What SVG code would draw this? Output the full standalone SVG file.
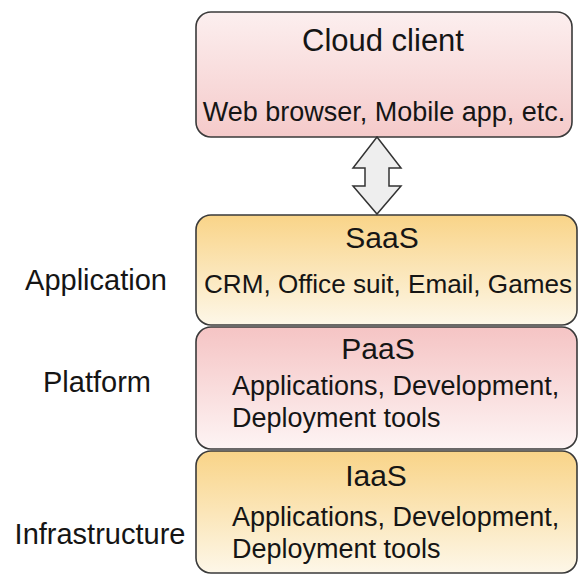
<svg xmlns="http://www.w3.org/2000/svg" width="579" height="574" viewBox="0 0 579 574">
<defs>
<linearGradient id="gPink" x1="0" y1="0" x2="0" y2="1"><stop offset="0" stop-color="#fcefef"/><stop offset="1" stop-color="#f5caca"/></linearGradient>
<linearGradient id="gPink2" x1="0" y1="0" x2="0" y2="1"><stop offset="0" stop-color="#f5c4c4"/><stop offset="1" stop-color="#fdf4f4"/></linearGradient>
<linearGradient id="gOrange" x1="0" y1="0" x2="0" y2="1"><stop offset="0" stop-color="#f9d488"/><stop offset="1" stop-color="#fdf7e8"/></linearGradient>
</defs>
<style>
.box{stroke:#3a3a3a;stroke-width:1.6}
text{font-family:"Liberation Sans",Arial,sans-serif;fill:#151515}
.t{font-size:30px;text-anchor:middle}
.b{font-size:27px}
.c{text-anchor:middle}
.l{font-size:29px;text-anchor:middle}
.arrow{fill:#eeeeee;stroke:#333;stroke-width:1.5;stroke-linejoin:miter}
</style>
<rect width="579" height="574" fill="#ffffff"/>
<g id="labels">
<text class="l" x="96" y="290">Application</text>
<text class="l" x="97" y="392">Platform</text>
<text class="l" x="100" y="544">Infrastructure</text>
</g>
<g id="cloud-client">
<rect class="box" x="196" y="12" width="376" height="125" rx="15" fill="url(#gPink)"/>
<text class="t" x="383" y="51" style="font-size:31px">Cloud client</text>
<text class="b c" x="384" y="121">Web browser, Mobile app, etc.</text>
</g>
<g id="saas">
<rect class="box" x="196" y="215" width="381" height="110" rx="15" fill="url(#gOrange)"/>
<text class="t" x="382" y="248">SaaS</text>
<text class="b" x="204" y="293" style="font-size:26.5px" textLength="368" lengthAdjust="spacingAndGlyphs">CRM, Office suit, Email, Games</text>
</g>
<g id="paas">
<rect class="box" x="196" y="327" width="381" height="122" rx="15" fill="url(#gPink2)"/>
<text class="t" x="378" y="359">PaaS</text>
<text class="b" x="232" y="395">Applications, Development,</text>
<text class="b" x="232" y="427">Deployment tools</text>
</g>
<g id="iaas">
<rect class="box" x="196" y="451" width="381" height="122" rx="15" fill="url(#gOrange)"/>
<text class="t" x="376" y="486">IaaS</text>
<text class="b" x="232" y="526">Applications, Development,</text>
<text class="b" x="232" y="558">Deployment tools</text>
</g>
<g id="connectors">
<path class="arrow" d="M377,137 L401,168 L389,168 L389,186 L401,186 L377,214 L353,186 L365,186 L365,168 L353,168 Z"/>
</g>
</svg>
